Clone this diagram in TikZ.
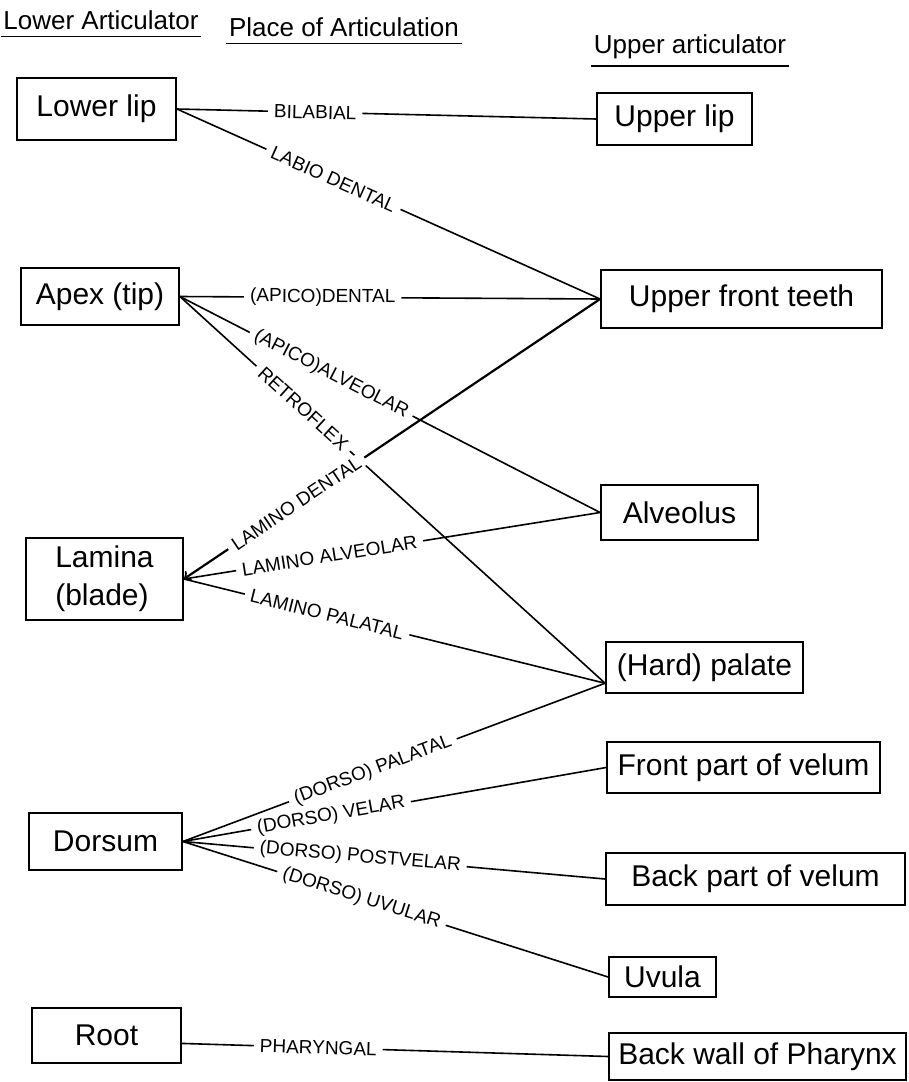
\documentclass[tikz,border=0pt]{standalone}
\usepackage{fontspec}
\setmainfont{Liberation Sans}
\usepackage{tikz}
\usetikzlibrary{arrows}
\tikzset{
  box/.style={draw, line width=0.9pt, font=\fontsize{15}{19}\selectfont, inner sep=2pt},
  place/.style={fill=white, inner xsep=3pt, inner ysep=0.3pt, sloped, font=\fontsize{9.5}{11}\selectfont},
  heading/.style={font=\fontsize{13}{15}\selectfont, inner sep=1pt},
}

\begin{document}
\begin{tikzpicture}[x=0.5pt, y=-0.5pt, line width=0.8pt]
		\useasboundingbox (0,0) rectangle (909,1082);
		% headings
		\node(hlow)[heading] at (101,20){Lower Articulator};
		\node(hplace)[heading] at (344,27){Place of Articulation};
		\node(hup)[heading] at (690,47){Upper articulator};
		\draw([yshift=-2pt]hlow.south west) -- ([yshift=-2pt]hlow.south east);
		\draw([yshift=-2pt]hplace.south west) -- ([yshift=-2pt]hplace.south east);
		\draw([yshift=-2pt]hup.south west) -- ([yshift=-2pt]hup.south east);
		% lower articulators
		\node(lowerlip)[box, minimum width=79.5pt, minimum height=31pt] at (96.5,109){Lower lip};
		\node(apex)[box, minimum width=79pt, minimum height=28.5pt] at (100,296.5){Apex (tip)};
		\node(lamina)[box, minimum width=78.5pt, minimum height=41pt, align=left] at (104.5,579){Lamina\\(blade)};
		\node(dorsum)[box, minimum width=76.5pt, minimum height=28.5pt] at (105.5,841.5){Dorsum};
		\node(root)[box, minimum width=74.5pt, minimum height=27.5pt] at (106.5,1035.5){Root};
		% upper articulators
		\node(upperlip)[box, minimum width=77.5pt, minimum height=26pt] at (674.5,119){Upper lip};
		\node(teeth)[box, minimum width=140.5pt, minimum height=29pt] at (741.5,299){Upper front teeth};
		\node(alveolus)[box, minimum width=78.5pt, minimum height=27.5pt] at (679.5,512.5){Alveolus};
		\node(palate)[box, minimum width=98.5pt, minimum height=25.5pt] at (704.5,667.5){(Hard) palate};
		\node(frontvelum)[box, minimum width=136.5pt, minimum height=25.5pt] at (743.5,767.5){Front part of velum};
		\node(backvelum)[box, minimum width=149.5pt, minimum height=26pt] at (755.5,879){Back part of velum};
		\node(uvula)[box, minimum width=53.5pt, minimum height=20pt] at (662.5,977){Uvula};
		\node(backwall)[box, minimum width=148.5pt, minimum height=23.5pt] at (757.5,1056.5){Back wall of Pharynx};
		% places of articulation
		\draw(lowerlip.east) to node[place, pos=0.33]{BILABIAL}(upperlip.west);
		\draw(lowerlip.east) to node[place, pos=0.37]{LABIO DENTAL}(teeth.west);
		\draw(apex.east) to node[place, pos=0.34]{(APICO)DENTAL}(teeth.west);
		\draw(apex.east) to node[place, pos=0.36]{(APICO)ALVEOLAR}(alveolus.west);
		\draw(apex.east) to node[place, pos=0.29]{RETROFLEX}(palate.189);
		\draw[<-, line width=1.1pt](lamina.east) to node[place, pos=0.27]{LAMINO DENTAL}(teeth.west);
		\draw(lamina.east) to node[place, pos=0.35]{LAMINO ALVEOLAR}(alveolus.west);
		\draw(lamina.east) to node[place, pos=0.34]{LAMINO PALATAL}(palate.189);
		\draw(dorsum.east) to node[place, pos=0.45]{(DORSO) PALATAL}(palate.189);
		\draw(dorsum.east) to node[place, pos=0.35]{(DORSO) VELAR}(frontvelum.west);
		\draw(dorsum.east) to node[place, pos=0.42]{(DORSO) POSTVELAR}(backvelum.west);
		\draw(dorsum.east) to node[place, pos=0.42]{(DORSO) UVULAR}(uvula.west);
		\draw(root.354) to node[place, pos=0.32]{PHARYNGAL}(backwall.west);
	\end{tikzpicture}
\end{document}
